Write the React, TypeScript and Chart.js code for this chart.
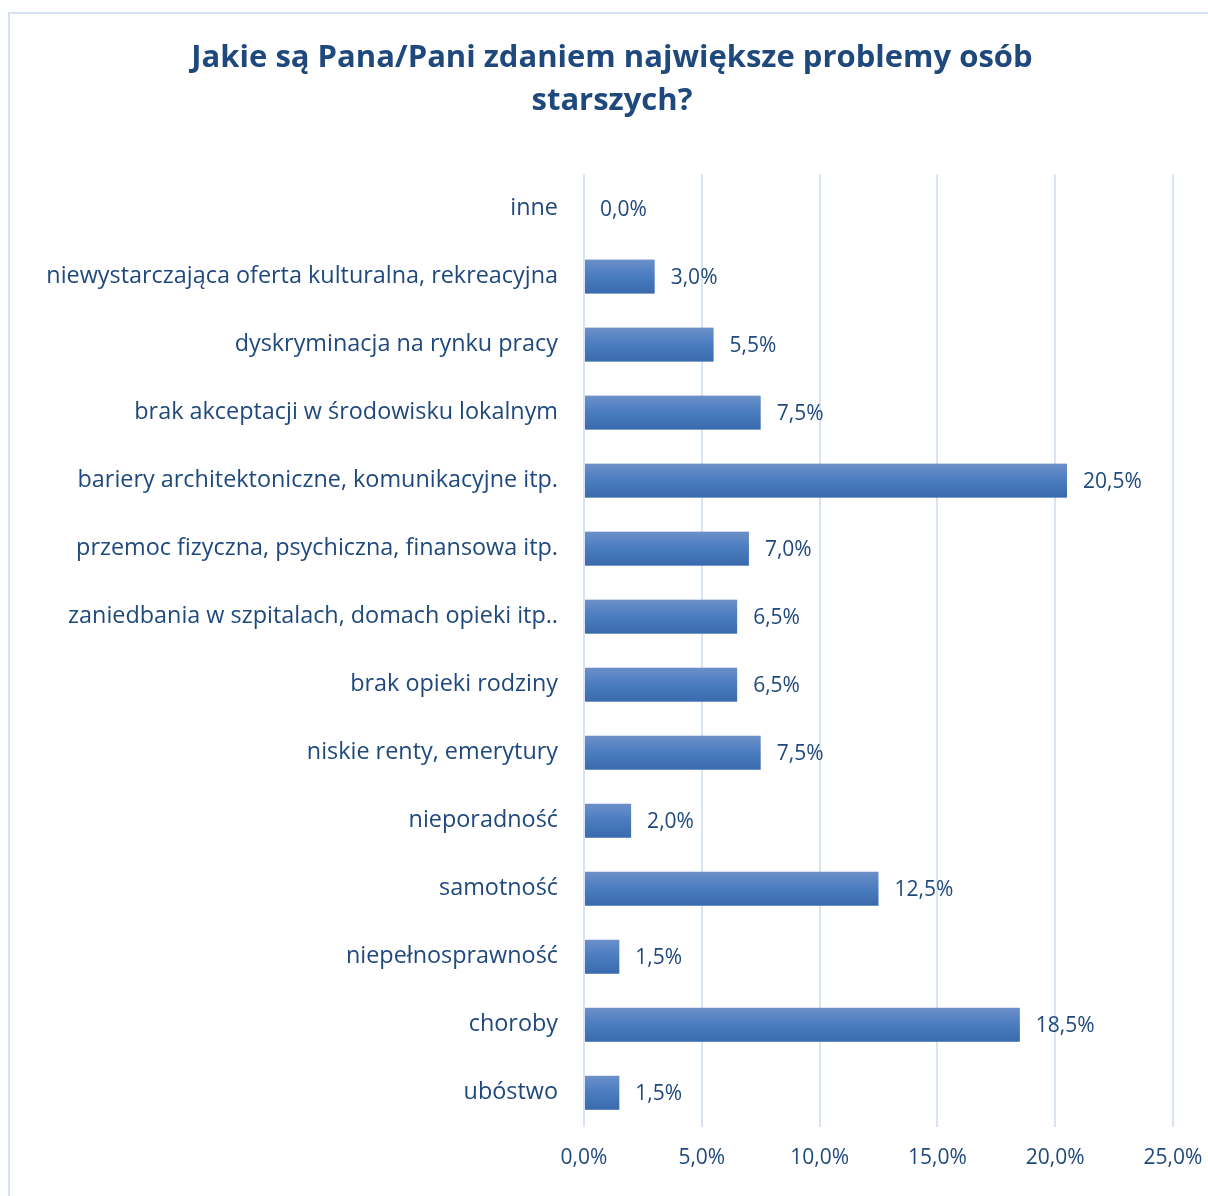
import React, { useEffect, useRef } from "react";
import { Chart, registerables } from "chart.js";

Chart.register(...registerables);

const titleLines = ["Jakie są Pana/Pani zdaniem największe problemy osób", "starszych?"];
const categories = [
  "inne",
  "niewystarczająca oferta kulturalna, rekreacyjna",
  "dyskryminacja na rynku pracy",
  "brak akceptacji w środowisku lokalnym",
  "bariery architektoniczne, komunikacyjne itp.",
  "przemoc fizyczna, psychiczna, finansowa itp.",
  "zaniedbania w szpitalach, domach opieki itp..",
  "brak opieki rodziny",
  "niskie renty, emerytury",
  "nieporadność",
  "samotność",
  "niepełnosprawność",
  "choroby",
  "ubóstwo",
];
const values = [0, 3.0, 5.5, 7.5, 20.5, 7.0, 6.5, 6.5, 7.5, 2.0, 12.5, 1.5, 18.5, 1.5];
const xMin = 0;
const xMax = 25;
const xStep = 5;

const TEXT = "#1F497D";
const FONT = "'Open Sans', Lato, sans-serif";
const fmt = (v: number) => v.toFixed(1).replace(".", ",") + "%";

const gradientBars = {
  id: "gradientBars",
  afterDatasetsDraw(chart: any) {
    const ctx = chart.ctx;
    const meta = chart.getDatasetMeta(0);
    ctx.save();
    meta.data.forEach((el: any, i: number) => {
      const h = el.height;
      const top = el.y - h / 2;
      const left = Math.min(el.base, el.x);
      const w = Math.abs(el.x - el.base);
      if (w > 0) {
        const g = ctx.createLinearGradient(0, top, 0, top + h);
        g.addColorStop(0, "#6C90C9");
        g.addColorStop(0.5, "#4A7CC0");
        g.addColorStop(1, "#3A6AAE");
        ctx.fillStyle = g;
        ctx.fillRect(left, top, w, h);
      }
      ctx.fillStyle = TEXT;
      ctx.font = "21px " + FONT;
      ctx.textAlign = "left";
      ctx.textBaseline = "middle";
      ctx.fillText(fmt(values[i]), el.x + 16, el.y + 1);
    });
    ctx.restore();
  },
};

export default function App() {
  const ref = useRef<HTMLCanvasElement | null>(null);
  useEffect(() => {
    if (!ref.current) return;
    const chart = new Chart(ref.current, {
      type: "bar",
      data: {
        labels: categories,
        datasets: [
          {
            data: values,
            backgroundColor: "rgba(0,0,0,0)",
            barPercentage: 0.5,
            categoryPercentage: 1,
          },
        ],
      },
      plugins: [gradientBars],
      options: {
        indexAxis: "y",
        animation: false,
        responsive: false,
        layout: { padding: { left: 16, right: 0, top: 0, bottom: 6 } },
        plugins: {
          legend: { display: false },
          tooltip: { enabled: false },
          title: {
            display: true,
            text: titleLines,
            color: TEXT,
            font: { family: FONT, size: 31, weight: "bold", lineHeight: 1.39 },
            padding: { top: 37, bottom: 51.4 },
          },
        },
        scales: {
          x: {
            min: xMin,
            max: xMax,
            ticks: {
              stepSize: xStep,
              color: TEXT,
              font: { family: FONT, size: 21, lineHeight: 1.2 },
              padding: 19,
              maxRotation: 0,
              callback: (v: any) => fmt(Number(v)),
            },
            grid: { color: "#D9E4F2", lineWidth: 2, drawTicks: false },
            border: { display: false },
            afterFit: (s: any) => {
              s.paddingLeft = 0;
              s.paddingRight = 35;
            },
          },
          y: {
            ticks: {
              color: TEXT,
              font: { family: FONT, size: 23.4 },
              padding: 26,
            },
            grid: { display: false, drawTicks: false },
            border: { display: false },
            afterFit: (s: any) => {
              s.width = 568;
            },
          },
        },
      },
    });
    return () => chart.destroy();
  }, []);
  return (
    <>
      <div
        style={{
          position: "fixed",
          left: 8,
          top: 12,
          width: 1200,
          height: 1184,
          borderLeft: "2px solid #D6E2F3",
          borderTop: "2px solid #D6E2F3",
          boxSizing: "border-box",
        }}
      />
      <div style={{ position: "fixed", left: 0, top: 0, width: 1208, height: 1196 }}>
        <canvas ref={ref} width={1208} height={1196} />
      </div>
    </>
  );
}
